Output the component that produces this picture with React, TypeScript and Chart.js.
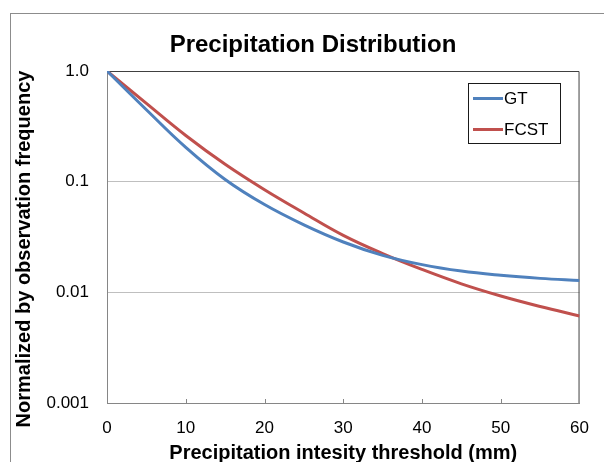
import { useEffect, useRef } from "react";
import { Chart, registerables } from "chart.js";

Chart.register(...registerables);

const thresholds = [0, 5, 10, 15, 20, 25, 30, 35, 40, 45, 50, 55, 60];
const gtValues = [1.0, 0.4467, 0.2042, 0.1047, 0.0621, 0.0407, 0.0285, 0.0216, 0.0178, 0.01556, 0.01426, 0.01337, 0.01276];
const fcstValues = [1.0, 0.5093, 0.2612, 0.1435, 0.0845, 0.0521, 0.0327, 0.0224, 0.0161, 0.01194, 0.00927, 0.00745, 0.00612];
const seriesNames = ["GT", "FCST"];
const seriesColors = ["#4f81bd", "#c0504d"];
const yTickValues = [0.001, 0.01, 0.1, 1];
const yTickLabels = ["0.001", "0.01", "0.1", "1.0"];
const xTickValues = [0, 10, 20, 30, 40, 50, 60];
const chartTitle = "Precipitation Distribution";
const xAxisTitle = "Precipitation intesity threshold (mm)";
const yAxisTitle = "Normalized by observation frequency";

const FONT = "'Liberation Sans', Arial, sans-serif";

const decorPlugin = {
  id: "decor",
  beforeDraw(chart: any) {
    const { ctx, width, height } = chart;
    ctx.save();
    ctx.fillStyle = "#ffffff";
    ctx.fillRect(0, 0, width, height);
    ctx.strokeStyle = "#8c8c8c";
    ctx.lineWidth = 1;
    ctx.strokeRect(10.5, 13.5, 1000, 1000);
    ctx.restore();
  },
  beforeDatasetsDraw(chart: any) {
    const { ctx, chartArea: a, scales } = chart;
    ctx.save();
    ctx.strokeStyle = "#404040";
    ctx.lineWidth = 1;
    ctx.beginPath();
    ctx.moveTo(a.left, a.top + 0.5);
    ctx.lineTo(a.right - 0.5, a.top + 0.5);
    ctx.lineTo(a.right - 0.5, a.bottom);
    ctx.stroke();
    ctx.strokeStyle = "#868686";
    ctx.beginPath();
    xTickValues.forEach((v) => {
      if (v <= xTickValues[0] || v >= xTickValues[xTickValues.length - 1]) return;
      const px = Math.round(scales.x.getPixelForValue(v)) + 0.5;
      ctx.moveTo(px, a.bottom - 4);
      ctx.lineTo(px, a.bottom);
    });
    ctx.stroke();
    ctx.restore();
  },
  afterDraw(chart: any) {
    const { ctx } = chart;
    // chart title
    ctx.save();
    ctx.font = `bold 24px ${FONT}`;
    ctx.fillStyle = "#000";
    ctx.textAlign = "center";
    ctx.textBaseline = "alphabetic";
    ctx.fillText(chartTitle, 313, 51.5);
    ctx.restore();

    // y axis title
    ctx.save();
    ctx.font = `bold 20px ${FONT}`;
    ctx.fillStyle = "#000";
    ctx.textAlign = "center";
    ctx.textBaseline = "alphabetic";
    ctx.translate(29.5, 249);
    ctx.rotate(-Math.PI / 2);
    ctx.fillText(yAxisTitle, 0, 0);
    ctx.restore();

    // legend
    ctx.save();
    ctx.strokeStyle = "#1a1a1a";
    ctx.lineWidth = 1;
    ctx.strokeRect(468.5, 83.5, 92, 60);
    ctx.font = `17px ${FONT}`;
    ctx.textAlign = "left";
    ctx.textBaseline = "middle";
    ctx.fillStyle = "#000";
    const rows = [98.5, 129.5];
    chart.data.datasets.forEach((ds: any, i: number) => {
      ctx.strokeStyle = ds.borderColor;
      ctx.lineWidth = 3;
      ctx.beginPath();
      ctx.moveTo(473, rows[i]);
      ctx.lineTo(503, rows[i]);
      ctx.stroke();
      ctx.fillText(ds.label, 504, rows[i] + 1);
    });
    ctx.restore();
  },
};

export default function App() {
  const ref = useRef<HTMLCanvasElement>(null);
  useEffect(() => {
    const chart = new Chart(ref.current as HTMLCanvasElement, {
      type: "line",
      data: {
        datasets: [gtValues, fcstValues].map((vals, i) => ({
          label: seriesNames[i],
          data: thresholds.map((x, j) => ({ x, y: vals[j] })),
          borderColor: seriesColors[i],
          backgroundColor: seriesColors[i],
          borderWidth: 3,
          pointRadius: 0,
          tension: 0.4,
          fill: false,
        })),
      },
      options: {
        animation: false,
        responsive: false,
        devicePixelRatio: 1,
        layout: { padding: { left: 0, right: 18, top: 71, bottom: 0 } },
        plugins: {
          legend: { display: false },
          tooltip: { enabled: false },
          title: { display: false },
        },
        scales: {
          x: {
            type: "linear",
            min: 0,
            max: 60,
            afterBuildTicks: (s: any) => {
              s.ticks = xTickValues.map((v) => ({ value: v }));
            },
            ticks: {
              padding: 15,
              color: "#000",
              font: { family: FONT, size: 17 },
              maxRotation: 0,
              autoSkip: false,
            },
            grid: { display: false, drawTicks: false },
            border: { display: true, color: "#868686", width: 1 },
            title: {
              display: true,
              text: xAxisTitle,
              color: "#000",
              font: { family: FONT, size: 20, weight: "bold", lineHeight: 0.88 },
              padding: 0,
            },
            afterFit: (s: any) => {
              s.height = 59;
            },
          },
          y: {
            type: "logarithmic",
            min: 0.001,
            max: 1,
            afterBuildTicks: (s: any) => {
              s.ticks = yTickValues.map((v) => ({ value: v }));
            },
            ticks: {
              padding: 18,
              color: "#000",
              font: { family: FONT, size: 17 },
              callback: (_v: any, i: number) => yTickLabels[i],
            },
            grid: {
              drawTicks: false,
              color: (c: any) => {
                const v = c.tick && c.tick.value;
                return v === yTickValues[1] || v === yTickValues[2] ? "#bfbfbf" : "rgba(0,0,0,0)";
              },
            },
            border: { display: true, color: "#868686", width: 1 },
            afterFit: (s: any) => {
              s.width = 107;
            },
          },
        },
      },
      plugins: [decorPlugin],
    } as any);
    return () => chart.destroy();
  }, []);
  return (
    <div style={{ position: "absolute", left: 0, top: 0, width: 604, height: 462, background: "#fff" }}>
      <canvas ref={ref} width={604} height={462} style={{ display: "block", width: 604, height: 462 }} />
    </div>
  );
}
